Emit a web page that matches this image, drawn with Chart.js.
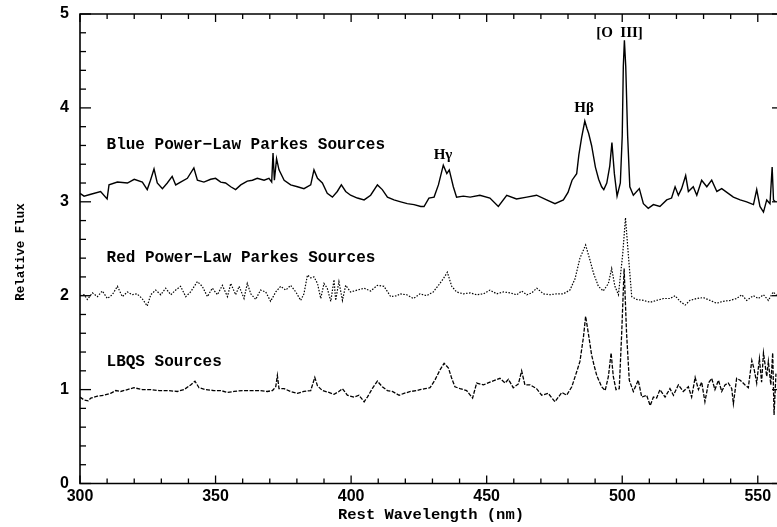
<!DOCTYPE html>
<html>
<head>
<meta charset="utf-8">
<script src="https://cdn.jsdelivr.net/npm/chart.js@4.4.1/dist/chart.umd.min.js"></script>
<style>
html,body{margin:0;padding:0;background:#fff;overflow:hidden;}
#wrap{width:777px;height:527px;overflow:hidden;position:relative;}
canvas{display:block;}
</style>
</head>
<body>
<div id="wrap"><canvas id="c" width="792" height="527"></canvas></div>
<script>
// ---- Data ----
const xTickLabels = [300, 350, 400, 450, 500, 550];
const yTickLabels = [0, 1, 2, 3, 4, 5];

const blueWave = [300.0,301.5,304.0,307.6,310.0,310.7,313.8,317.5,320.0,323.0,324.8,326.0,327.3,328.5,330.4,332.2,334.0,335.3,337.1,339.6,342.0,343.3,345.7,348.2,350.0,351.9,353.7,355.6,357.4,359.3,361.7,363.6,365.4,367.9,369.7,370.7,371.2,371.7,372.5,373.4,375.3,377.7,380.2,382.6,385.1,386.3,387.6,389.4,391.2,393.1,394.9,396.4,398.0,399.8,402.3,404.8,407.2,409.7,411.5,413.4,415.8,418.3,420.7,423.2,425.7,426.9,428.7,430.6,432.2,434.0,435.3,436.2,437.7,438.9,441.4,443.9,447.5,451.2,454.3,457.4,461.0,464.8,468.4,472.1,475.2,478.3,480.0,481.5,483.2,484.0,485.0,486.2,487.0,487.6,488.7,490.1,491.3,492.4,493.2,494.3,495.4,496.2,497.1,498.1,499.3,500.0,500.4,500.8,501.3,502.0,502.8,504.1,506.3,507.8,509.6,511.5,513.9,516.4,518.2,519.5,520.7,521.9,523.4,524.4,526.2,527.5,529.3,531.2,533.0,534.9,536.7,539.1,541.0,543.5,545.9,548.4,549.6,550.8,552.1,553.3,554.5,555.3,555.8,556.5];
const blueFlux = [3.09,3.06,3.08,3.11,3.03,3.18,3.21,3.20,3.24,3.21,3.13,3.23,3.35,3.20,3.14,3.20,3.27,3.18,3.21,3.25,3.36,3.23,3.21,3.24,3.25,3.21,3.20,3.16,3.13,3.18,3.22,3.23,3.25,3.23,3.25,3.21,3.52,3.23,3.46,3.34,3.23,3.18,3.16,3.14,3.18,3.34,3.25,3.20,3.09,3.05,3.11,3.18,3.11,3.07,3.04,3.02,3.07,3.18,3.13,3.05,3.02,3.00,2.98,2.97,2.95,2.95,3.04,3.05,3.18,3.39,3.30,3.34,3.16,3.05,3.06,3.05,3.07,3.04,2.95,3.07,3.03,3.05,3.07,3.02,2.98,3.02,3.10,3.23,3.30,3.50,3.68,3.86,3.78,3.73,3.60,3.37,3.24,3.16,3.13,3.20,3.38,3.63,3.30,3.06,3.20,3.70,4.44,4.72,4.44,3.70,3.16,3.07,3.14,2.98,2.93,2.97,2.95,3.02,3.04,3.16,3.07,3.14,3.28,3.11,3.16,3.07,3.23,3.16,3.23,3.11,3.14,3.09,3.05,3.02,3.00,2.97,3.13,2.95,2.89,3.02,2.98,3.37,3.02,3.00];

const redWave = [300.0,301.5,302.7,304.6,306.4,308.2,310.1,311.9,313.8,315.6,317.5,319.2,321.0,322.9,324.8,326.1,327.9,329.8,331.6,333.5,335.3,337.1,339.0,340.8,343.3,345.1,347.0,348.8,350.7,352.5,354.4,355.6,357.4,358.7,360.5,361.7,363.0,364.8,366.6,368.5,370.3,372.2,374.0,375.9,377.7,379.6,381.4,382.6,383.9,385.1,386.3,387.6,388.8,390.0,391.2,392.5,393.7,394.3,395.5,396.8,398.0,399.8,402.3,404.8,407.2,409.7,412.1,414.6,417.0,418.0,420.5,423.0,425.4,427.9,430.3,432.2,434.0,435.5,437.1,438.9,441.4,443.9,446.3,448.8,451.2,453.7,456.2,458.6,461.1,462.9,464.8,466.6,468.5,470.9,473.4,475.8,478.3,480.7,482.6,484.4,486.5,488.1,489.4,491.2,493.0,494.9,496.1,497.3,498.6,500.2,501.2,502.3,503.5,505.3,507.8,510.3,512.7,515.2,517.6,519.5,521.3,523.2,525.0,527.5,529.9,532.4,534.8,537.3,539.8,542.2,544.1,545.9,548.4,550.2,552.1,553.9,555.7,557.0];
const redFlux = [2.00,2.01,1.96,2.03,1.99,2.05,1.97,2.01,2.10,1.99,2.04,2.01,2.02,1.97,1.89,2.01,2.06,2.01,2.08,2.01,2.06,2.10,1.99,2.04,2.15,2.10,1.99,2.08,2.01,2.11,1.99,2.13,2.01,2.10,1.97,2.13,2.02,1.96,2.06,2.04,1.94,2.04,2.10,2.06,2.11,2.04,1.95,2.02,2.22,2.19,2.20,2.13,1.97,2.13,2.08,1.94,2.17,1.95,2.15,1.95,2.11,2.04,2.06,2.08,2.05,2.11,2.10,1.99,2.00,2.02,2.01,1.97,2.02,2.00,2.04,2.11,2.18,2.25,2.10,2.04,2.02,2.03,2.01,2.02,2.06,2.02,2.04,2.03,2.01,2.05,2.01,2.03,2.08,2.02,2.01,2.02,2.02,2.06,2.18,2.40,2.54,2.38,2.24,2.10,2.05,2.13,2.29,2.10,2.01,2.45,2.83,2.42,1.99,1.96,1.95,1.93,1.95,1.97,1.97,2.00,1.94,1.90,1.95,1.97,1.98,1.95,1.92,1.94,1.95,1.97,2.01,1.95,2.00,1.97,2.01,1.95,2.04,2.00];

const lbqsWave = [300.0,301.5,303.0,304.0,306.4,308.9,311.3,313.2,315.0,317.5,319.9,323.0,326.1,329.1,332.2,335.9,338.4,340.8,342.4,343.9,346.4,349.4,351.9,354.4,356.8,359.9,363.0,366.0,369.1,371.0,372.2,372.8,373.4,375.3,377.7,380.2,382.6,385.1,386.6,387.6,389.4,391.8,393.7,395.5,396.8,398.6,401.1,402.9,404.8,406.0,407.8,409.7,411.5,413.4,415.2,417.7,419.5,421.9,424.4,425.4,427.3,429.1,430.9,432.8,434.3,435.9,437.1,438.3,440.2,442.6,444.8,446.3,448.8,451.2,453.1,454.9,456.8,458.0,459.8,461.7,462.9,464.1,466.0,468.4,470.3,472.7,475.2,477.7,479.5,481.4,483.2,484.4,485.7,486.5,487.5,488.7,489.6,490.6,492.4,493.7,494.9,495.9,496.7,497.7,498.9,499.8,500.7,501.6,502.6,504.1,505.9,507.2,509.0,510.3,511.5,512.7,513.9,515.8,517.6,518.9,520.7,522.5,524.4,525.6,526.9,528.1,529.3,530.5,531.8,533.0,534.2,535.5,536.7,537.9,539.1,540.4,541.0,542.2,543.5,545.3,546.5,547.8,548.7,549.6,550.6,551.4,552.1,553.3,553.9,554.8,555.5,556.0,556.7];
const lbqsFlux = [0.92,0.89,0.88,0.91,0.93,0.94,0.96,0.99,0.98,1.00,1.02,1.00,1.00,0.99,0.99,0.98,1.00,1.05,1.09,1.02,1.00,0.99,0.99,0.97,0.98,0.99,0.99,0.99,0.98,0.99,1.03,1.15,1.01,1.01,0.98,0.96,0.98,0.99,1.13,1.04,0.99,0.97,0.95,0.98,1.01,0.94,0.92,0.94,0.87,0.92,1.01,1.09,1.03,0.99,0.98,0.94,0.96,0.98,0.99,1.00,1.01,1.02,1.10,1.21,1.28,1.23,1.12,1.03,1.01,0.99,0.91,1.07,1.05,1.08,1.10,1.12,1.07,1.11,1.02,1.06,1.20,1.05,1.05,1.01,0.94,0.96,0.87,0.97,0.94,1.03,1.19,1.30,1.56,1.78,1.60,1.37,1.26,1.15,1.03,0.99,1.14,1.39,1.14,1.00,1.01,1.60,2.29,1.60,1.10,0.98,1.10,0.92,0.94,0.83,0.92,0.91,1.00,0.92,1.01,0.94,1.05,0.98,1.03,0.92,1.13,1.00,1.08,0.87,1.07,1.12,1.00,1.10,0.98,1.05,1.07,1.01,0.85,1.12,1.10,1.05,1.02,1.31,1.21,1.07,1.33,1.08,1.39,1.14,1.30,1.05,1.39,0.73,1.17];

const seriesLabels = ['Blue Power\u2212Law Parkes Sources', 'Red Power\u2212Law Parkes Sources', 'LBQS Sources'];

// ---- build points ----
const pts = (w, f) => w.map((v, i) => ({x: v, y: f[i]}));

const MONO = '"Liberation Mono", "DejaVu Sans Mono", monospace';
const SANS = '"Liberation Sans", Arial, sans-serif';
const SERIF = '"Liberation Serif", "DejaVu Serif", serif';

const decor = {
  id: 'decor',
  afterDatasetsDraw(chart) {
    const {ctx, chartArea: a, scales: {x, y}} = chart;
    ctx.save();
    ctx.strokeStyle = '#000';
    ctx.fillStyle = '#000';
    ctx.lineWidth = 1.6;
    ctx.beginPath();
    ctx.rect(a.left, a.top, a.right - a.left, a.bottom - a.top);
    ctx.stroke();
    ctx.lineWidth = 1.3;
    const seg = (x1, y1, x2, y2) => { ctx.beginPath(); ctx.moveTo(x1, y1); ctx.lineTo(x2, y2); ctx.stroke(); };
    for (let v = 300; v <= x.max; v += 10) {
      const px = x.getPixelForValue(v);
      const len = (v % 50 === 0) ? 8 : 5;
      seg(px, a.bottom, px, a.bottom - len);
      seg(px, a.top, px, a.top + len);
    }
    for (let i = 0; i <= 25; i++) {
      const py = y.getPixelForValue(i * 0.2);
      const len = (i % 5 === 0) ? 11 : 6;
      seg(a.left, py, a.left + len, py);
      seg(a.right, py, a.right - len, py);
    }
    // series labels
    ctx.font = 'bold 16px ' + MONO;
    ctx.textBaseline = 'middle';
    ctx.textAlign = 'left';
    const lx = x.getPixelForValue(309.8);
    ctx.fillText(seriesLabels[0], lx, y.getPixelForValue(3.605));
    ctx.fillText(seriesLabels[1], lx, y.getPixelForValue(2.405));
    ctx.fillText(seriesLabels[2], lx, y.getPixelForValue(1.297));
    // line annotations
    ctx.font = 'bold 15px ' + SERIF;
    ctx.textAlign = 'center';
    ctx.fillText('H\u03B3', x.getPixelForValue(433.9), y.getPixelForValue(3.50));
    ctx.fillText('H\u03B2', x.getPixelForValue(485.9), y.getPixelForValue(4.00));
    ctx.fillText('[O  III]', x.getPixelForValue(499.0), y.getPixelForValue(4.80));
    // axis titles
    ctx.font = 'bold 15.5px ' + MONO;
    ctx.fillText('Rest Wavelength (nm)', 431, 515);
    ctx.save();
    ctx.translate(21, 252);
    ctx.rotate(-Math.PI / 2);
    ctx.font = 'bold 12.5px ' + MONO;
    ctx.fillText('Relative Flux', 0, 0);
    ctx.restore();
    ctx.restore();
  }
};

new Chart(document.getElementById('c'), {
  type: 'line',
  data: {
    datasets: [
      {data: pts(blueWave, blueFlux), borderColor: '#000', borderWidth: 1.4, pointRadius: 0, tension: 0},
      {data: pts(redWave, redFlux), borderColor: '#000', borderWidth: 1.2, borderDash: [1.5, 1.5], pointRadius: 0, tension: 0},
      {data: pts(lbqsWave, lbqsFlux), borderColor: '#000', borderWidth: 1.3, borderDash: [4, 1.5], pointRadius: 0, tension: 0}
    ]
  },
  options: {
    responsive: false,
    animation: false,
    devicePixelRatio: 1,
    layout: {padding: {top: 14, right: 9, left: 0, bottom: 0}},
    plugins: {legend: {display: false}, tooltip: {enabled: false}},
    scales: {
      x: {
        type: 'linear', min: 300, max: 559.3, position: 'bottom',
        grid: {display: false, drawTicks: false},
        border: {display: false},
        afterFit: s => { s.height = 43.5; s.paddingLeft = 0; s.paddingRight = 0; },
        afterBuildTicks: s => { s.ticks = xTickLabels.map(v => ({value: v})); },
        ticks: {color: '#000', font: {family: SANS, size: 16, weight: 'bold'}, padding: 3, maxRotation: 0,
                callback: v => String(v)}
      },
      y: {
        type: 'linear', min: 0, max: 5, position: 'left',
        grid: {display: false, drawTicks: false},
        border: {display: false},
        afterFit: s => { s.width = 80; s.paddingTop = 0; s.paddingBottom = 0; },
        afterBuildTicks: s => { s.ticks = yTickLabels.map(v => ({value: v})); },
        ticks: {color: '#000', font: {family: SANS, size: 16, weight: 'bold'}, padding: 11,
                callback: v => String(v)}
      }
    }
  },
  plugins: [decor]
});
</script>
</body>
</html>
